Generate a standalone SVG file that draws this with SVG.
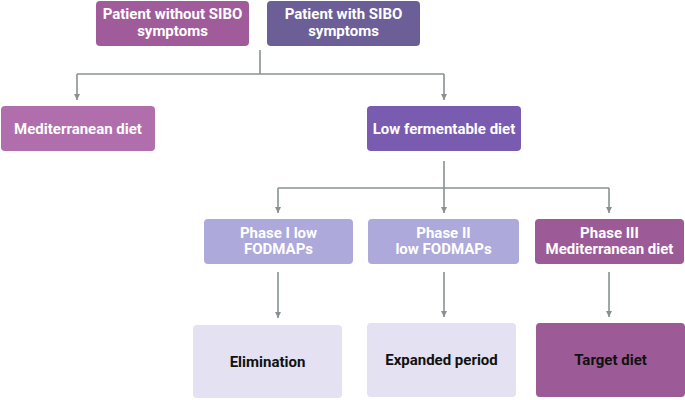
<svg xmlns="http://www.w3.org/2000/svg" width="685" height="400" viewBox="0 0 685 400">
<defs>
<marker id="ah" viewBox="0 0 6 6" refX="6" refY="3" markerWidth="6" markerHeight="6" markerUnits="userSpaceOnUse" orient="auto">
<path d="M0,0 L6,3 L0,6 Z" fill="#8A9092"/>
</marker>
</defs>
<style>
.c{fill:none;stroke:#8A9092;stroke-width:1.6}
.a{marker-end:url(#ah)}
.t{font-family:Roboto,"Liberation Sans",sans-serif;font-weight:bold;font-size:15px;text-anchor:middle}
.w{fill:#ffffff}
.k{fill:#111111}
</style>
<rect width="685" height="400" fill="#ffffff"/>
<g id="connectors">
<path class="c" d="M260,50 V74"/>
<path class="c" d="M77,74 H444"/>
<path class="c a" d="M77,74 V100"/>
<path class="c a" d="M444,74 V100"/>
<path class="c" d="M444,161 V188"/>
<path class="c a" d="M444,188 V213"/>
<path class="c" d="M278,188 H609"/>
<path class="c a" d="M278,188 V213"/>
<path class="c a" d="M609,188 V213"/>
<path class="c a" d="M278,272 V318"/>
<path class="c a" d="M444,272 V317"/>
<path class="c a" d="M609,272 V317"/>
</g>
<g id="n-without">
<rect x="96" y="1" width="153" height="45" rx="4" fill="#A05C9A"/>
<text class="t w" x="172.5" y="18.5">Patient without SIBO</text>
<text class="t w" x="172.5" y="35.5">symptoms</text>
</g>
<g id="n-with">
<rect x="267" y="1" width="153" height="45" rx="4" fill="#6C5E96"/>
<text class="t w" x="343.5" y="18.5">Patient with SIBO</text>
<text class="t w" x="343.5" y="35.5">symptoms</text>
</g>
<g id="n-med">
<rect x="1" y="106" width="154" height="45" rx="4" fill="#B06EAC"/>
<text class="t w" x="78" y="133.5">Mediterranean diet</text>
</g>
<g id="n-lowferm">
<rect x="367" y="106" width="154" height="45" rx="4" fill="#795BB0"/>
<text class="t w" x="444" y="133.5">Low fermentable diet</text>
</g>
<g id="n-phase1">
<rect x="204" y="219" width="149" height="45" rx="4" fill="#ADA9DB"/>
<text class="t w" x="278.5" y="237.5">Phase I low</text>
<text class="t w" x="278.5" y="254">FODMAPs</text>
</g>
<g id="n-phase2">
<rect x="368" y="219" width="151" height="45" rx="4" fill="#ADA9DB"/>
<text class="t w" x="443.5" y="237.5">Phase II</text>
<text class="t w" x="443.5" y="254">low FODMAPs</text>
</g>
<g id="n-phase3">
<rect x="535" y="219" width="149" height="45" rx="4" fill="#9C5A96"/>
<text class="t w" x="609.5" y="237.5">Phase III</text>
<text class="t w" x="609.5" y="254">Mediterranean diet</text>
</g>
<g id="n-elim">
<rect x="193" y="325" width="149" height="73" rx="4" fill="#E4E1F2"/>
<text class="t k" x="267.5" y="366.5">Elimination</text>
</g>
<g id="n-expanded">
<rect x="367" y="323" width="149" height="74" rx="4" fill="#E4E1F2"/>
<text class="t k" x="441.5" y="365">Expanded period</text>
</g>
<g id="n-target">
<rect x="536" y="323" width="149" height="74" rx="4" fill="#9C5A96"/>
<text class="t k" x="610.5" y="365">Target diet</text>
</g>
</svg>
